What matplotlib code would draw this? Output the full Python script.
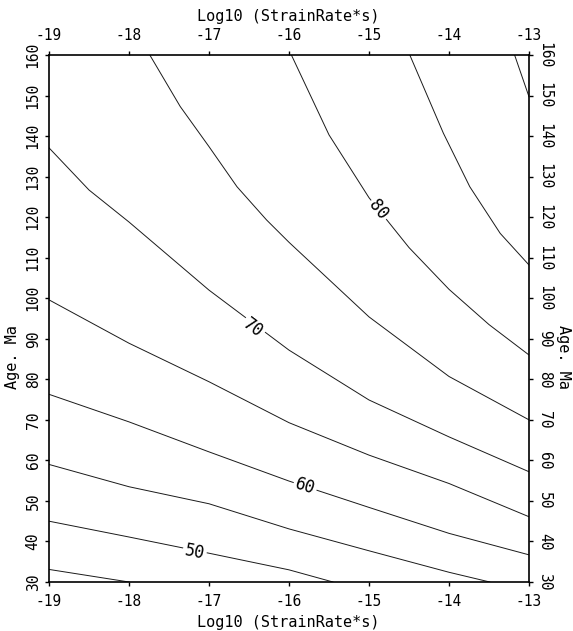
import matplotlib
matplotlib.use('Agg')
import matplotlib.pyplot as plt
import numpy as np

plt.rcParams['font.family'] = ['DejaVu Sans Mono']
plt.rcParams['axes.unicode_minus'] = False

# contour lines: level -> (log10 strain rate, age)
x45 = [-19, -18.0]
y45 = [33.1, 30.0]
x50 = [-19, -18, -17, -16, -15.45]
y50 = [45.0, 41.1, 37.1, 33.0, 30.0]
x55 = [-19, -18, -17, -16, -15, -14, -13.49]
y55 = [59.0, 53.5, 49.3, 43.1, 37.7, 32.4, 30.0]
x60 = [-19, -18, -17, -16, -15, -14, -13]
y60 = [76.3, 69.5, 62.1, 54.9, 48.4, 42.0, 36.7]
x65 = [-19, -18, -17, -16, -15, -14, -13]
y65 = [99.6, 88.9, 79.4, 69.3, 61.3, 54.3, 46.1]
x70 = [-19, -18.5, -18, -17, -16, -15, -14, -13]
y70 = [137.1, 126.7, 118.8, 102.0, 87.2, 74.9, 65.8, 57.2]
x75 = [-17.74, -17.36, -17, -16.65, -16.28, -16, -15, -14, -13]
y75 = [160, 147.3, 137.4, 127.5, 119.3, 113.8, 95.4, 80.7, 70.0]
x80 = [-15.97, -15.5, -15, -14.5, -14, -13.5, -13]
y80 = [160, 140.3, 124.8, 112.5, 102.2, 93.5, 86.0]
x85 = [-14.49, -14.07, -13.74, -13.36, -13]
y85 = [160, 140.7, 127.5, 116.0, 108.2]
x90 = [-13.18, -13]
y90 = [160, 149.7]

levels = [45, 50, 55, 60, 65, 70, 75, 80, 85, 90]
lines_x = [x45, x50, x55, x60, x65, x70, x75, x80, x85, x90]
lines_y = [y45, y50, y55, y60, y65, y70, y75, y80, y85, y90]

# inline labels
label_levels = [50, 60, 70, 80]
label_x = [-17.18, -15.8, -16.45, -14.88]
label_y = [37.4, 53.5, 92.6, 121.8]

xticks = [-19, -18, -17, -16, -15, -14, -13]
yticks = [30, 40, 50, 60, 70, 80, 90, 100, 110, 120, 130, 140, 150, 160]

fig = plt.figure(figsize=(5.73, 6.31), dpi=100)
ax = fig.add_axes([49/573, 1-582/631, 480/573, 527/631])

for lx, ly in zip(lines_x, lines_y):
    ax.plot(lx, ly, color='#1a1a1a', lw=0.7)

for lev, tx, ty in zip(label_levels, label_x, label_y):
    i = levels.index(lev)
    ang = np.degrees(np.arctan2(np.diff(np.interp([tx-0.05, tx+0.05], lines_x[i], lines_y[i]))[0], 0.1))
    ax.text(tx, ty, str(lev), fontsize=12, ha='center', va='center',
            rotation=ang, transform_rotates_text=True, rotation_mode='anchor',
            bbox=dict(facecolor='white', edgecolor='none', pad=1.5), zorder=3)

ax.set_xlim(-19, -13)
ax.set_ylim(30, 160)
ax.set_xticks(xticks)
ax.set_yticks(yticks)
ax.tick_params(direction='out', length=3, width=1, labelsize=10.5, pad=5.5,
               top=True, right=True, labeltop=True, labelright=True)
ax.tick_params(axis='y', pad=3)
for t in ax.yaxis.get_major_ticks():
    t.label1.set_rotation(90)
    t.label1.set_verticalalignment('center')
    t.label2.set_rotation(270)
    t.label2.set_verticalalignment('center')
for s in ax.spines.values():
    s.set_linewidth(1.2)

fig.text(288/573, 1-622/631, 'Log10 (StrainRate*s)', fontsize=11, ha='center', va='center')
fig.text(288/573, 1-17/631, 'Log10 (StrainRate*s)', fontsize=11, ha='center', va='center')
fig.text(12/573, 1-357/631, 'Age. Ma', fontsize=11, ha='center', va='center', rotation=90)
fig.text(564/573, 1-357/631, 'Age. Ma', fontsize=11, ha='center', va='center', rotation=270)

fig.savefig('out.png', dpi=100)
